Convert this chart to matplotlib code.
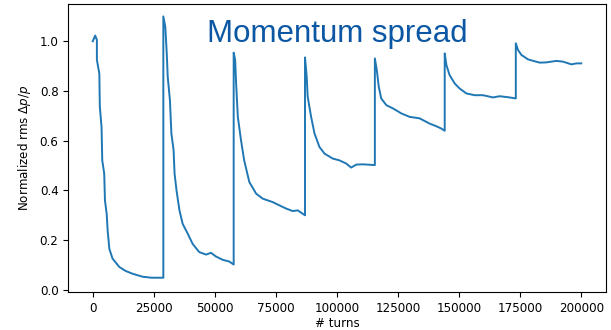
import matplotlib
matplotlib.use('Agg')
import matplotlib.pyplot as plt
import numpy as np

# turns / normalized rms dp/p (one list per cooling cycle)
turns_1 = [0, 1000, 1700, 1700, 2700, 2900, 3600, 3900, 4700, 5000, 5700, 6100, 6800,
           8100, 10900, 13500, 16300, 20400, 24000, 28900]
spread_1 = [1.0, 1.023, 1.005, 0.925, 0.87, 0.737, 0.656, 0.52, 0.468, 0.36, 0.307, 0.24, 0.165,
            0.126, 0.092, 0.076, 0.065, 0.053, 0.049, 0.049]

turns_2 = [28900, 29700, 30300, 30700, 31600, 32200, 33100, 33500, 34300, 35500, 36800, 38900,
           40900, 43600, 46400, 48400, 50500, 53200, 55900, 57700]
spread_2 = [1.10, 1.059, 0.952, 0.857, 0.763, 0.629, 0.562, 0.468, 0.40, 0.32, 0.266, 0.226,
            0.185, 0.152, 0.142, 0.149, 0.134, 0.121, 0.114, 0.102]

turns_3 = [57700, 58300, 58700, 59400, 60700, 62000, 64100, 66900, 69600, 73700, 76400,
           79200, 81900, 83900, 86000, 86900]
spread_3 = [0.954, 0.925, 0.83, 0.696, 0.602, 0.521, 0.434, 0.387, 0.367, 0.353, 0.34,
            0.327, 0.317, 0.32, 0.306, 0.30]

turns_4 = [86900, 87600, 88000, 89400, 90800, 92800, 94900, 98300, 101000, 103800,
           105800, 107900, 110600, 115500]
spread_4 = [0.935, 0.857, 0.777, 0.696, 0.629, 0.575, 0.548, 0.528, 0.521, 0.508,
            0.492, 0.504, 0.505, 0.502]

turns_5 = [115500, 116300, 117100, 118100, 120200, 122900, 126300, 129700, 133800,
           137900, 140700, 142700, 144100]
spread_5 = [0.931, 0.884, 0.817, 0.77, 0.743, 0.73, 0.71, 0.696, 0.69,
            0.669, 0.658, 0.649, 0.64]

turns_6 = [144100, 144800, 146100, 148200, 150200, 153000, 156400, 159800, 163900,
           166600, 170700, 173200]
spread_6 = [0.951, 0.904, 0.864, 0.83, 0.81, 0.79, 0.783, 0.783, 0.774,
            0.779, 0.774, 0.77]

turns_7 = [173200, 174100, 175500, 178200, 183000, 185700, 189800, 192500, 196000,
           198000, 200000]
spread_7 = [0.992, 0.965, 0.945, 0.927, 0.914, 0.915, 0.921, 0.918, 0.907,
            0.911, 0.911]

turns = turns_1 + turns_2 + turns_3 + turns_4 + turns_5 + turns_6 + turns_7
spread = spread_1 + spread_2 + spread_3 + spread_4 + spread_5 + spread_6 + spread_7

plt.rcParams['font.size'] = 8.6
fig = plt.figure(figsize=(6.11, 3.30), dpi=100)
ax = fig.add_axes([0.1118, 0.114, 0.8795, 0.874])

ax.plot(turns, spread, color='#1f77b4', linewidth=1.4)
ax.set_xticks(np.arange(0, 200001, 25000))
ax.set_yticks([0.0, 0.2, 0.4, 0.6, 0.8, 1.0])
ax.set_xlim(-10000, 210000)
ax.set_ylim(-0.01, 1.15)
ax.set_xlabel('# turns', labelpad=1.5)
ax.set_ylabel(r'Normalized rms $\Delta p/p$', labelpad=5)

ax.text(0.259, 0.869, 'Momentum spread', transform=ax.transAxes,
        family='Liberation Sans', fontsize=22.5, color='#0b57a4', va='baseline')

fig.savefig('out.png', dpi=100)
